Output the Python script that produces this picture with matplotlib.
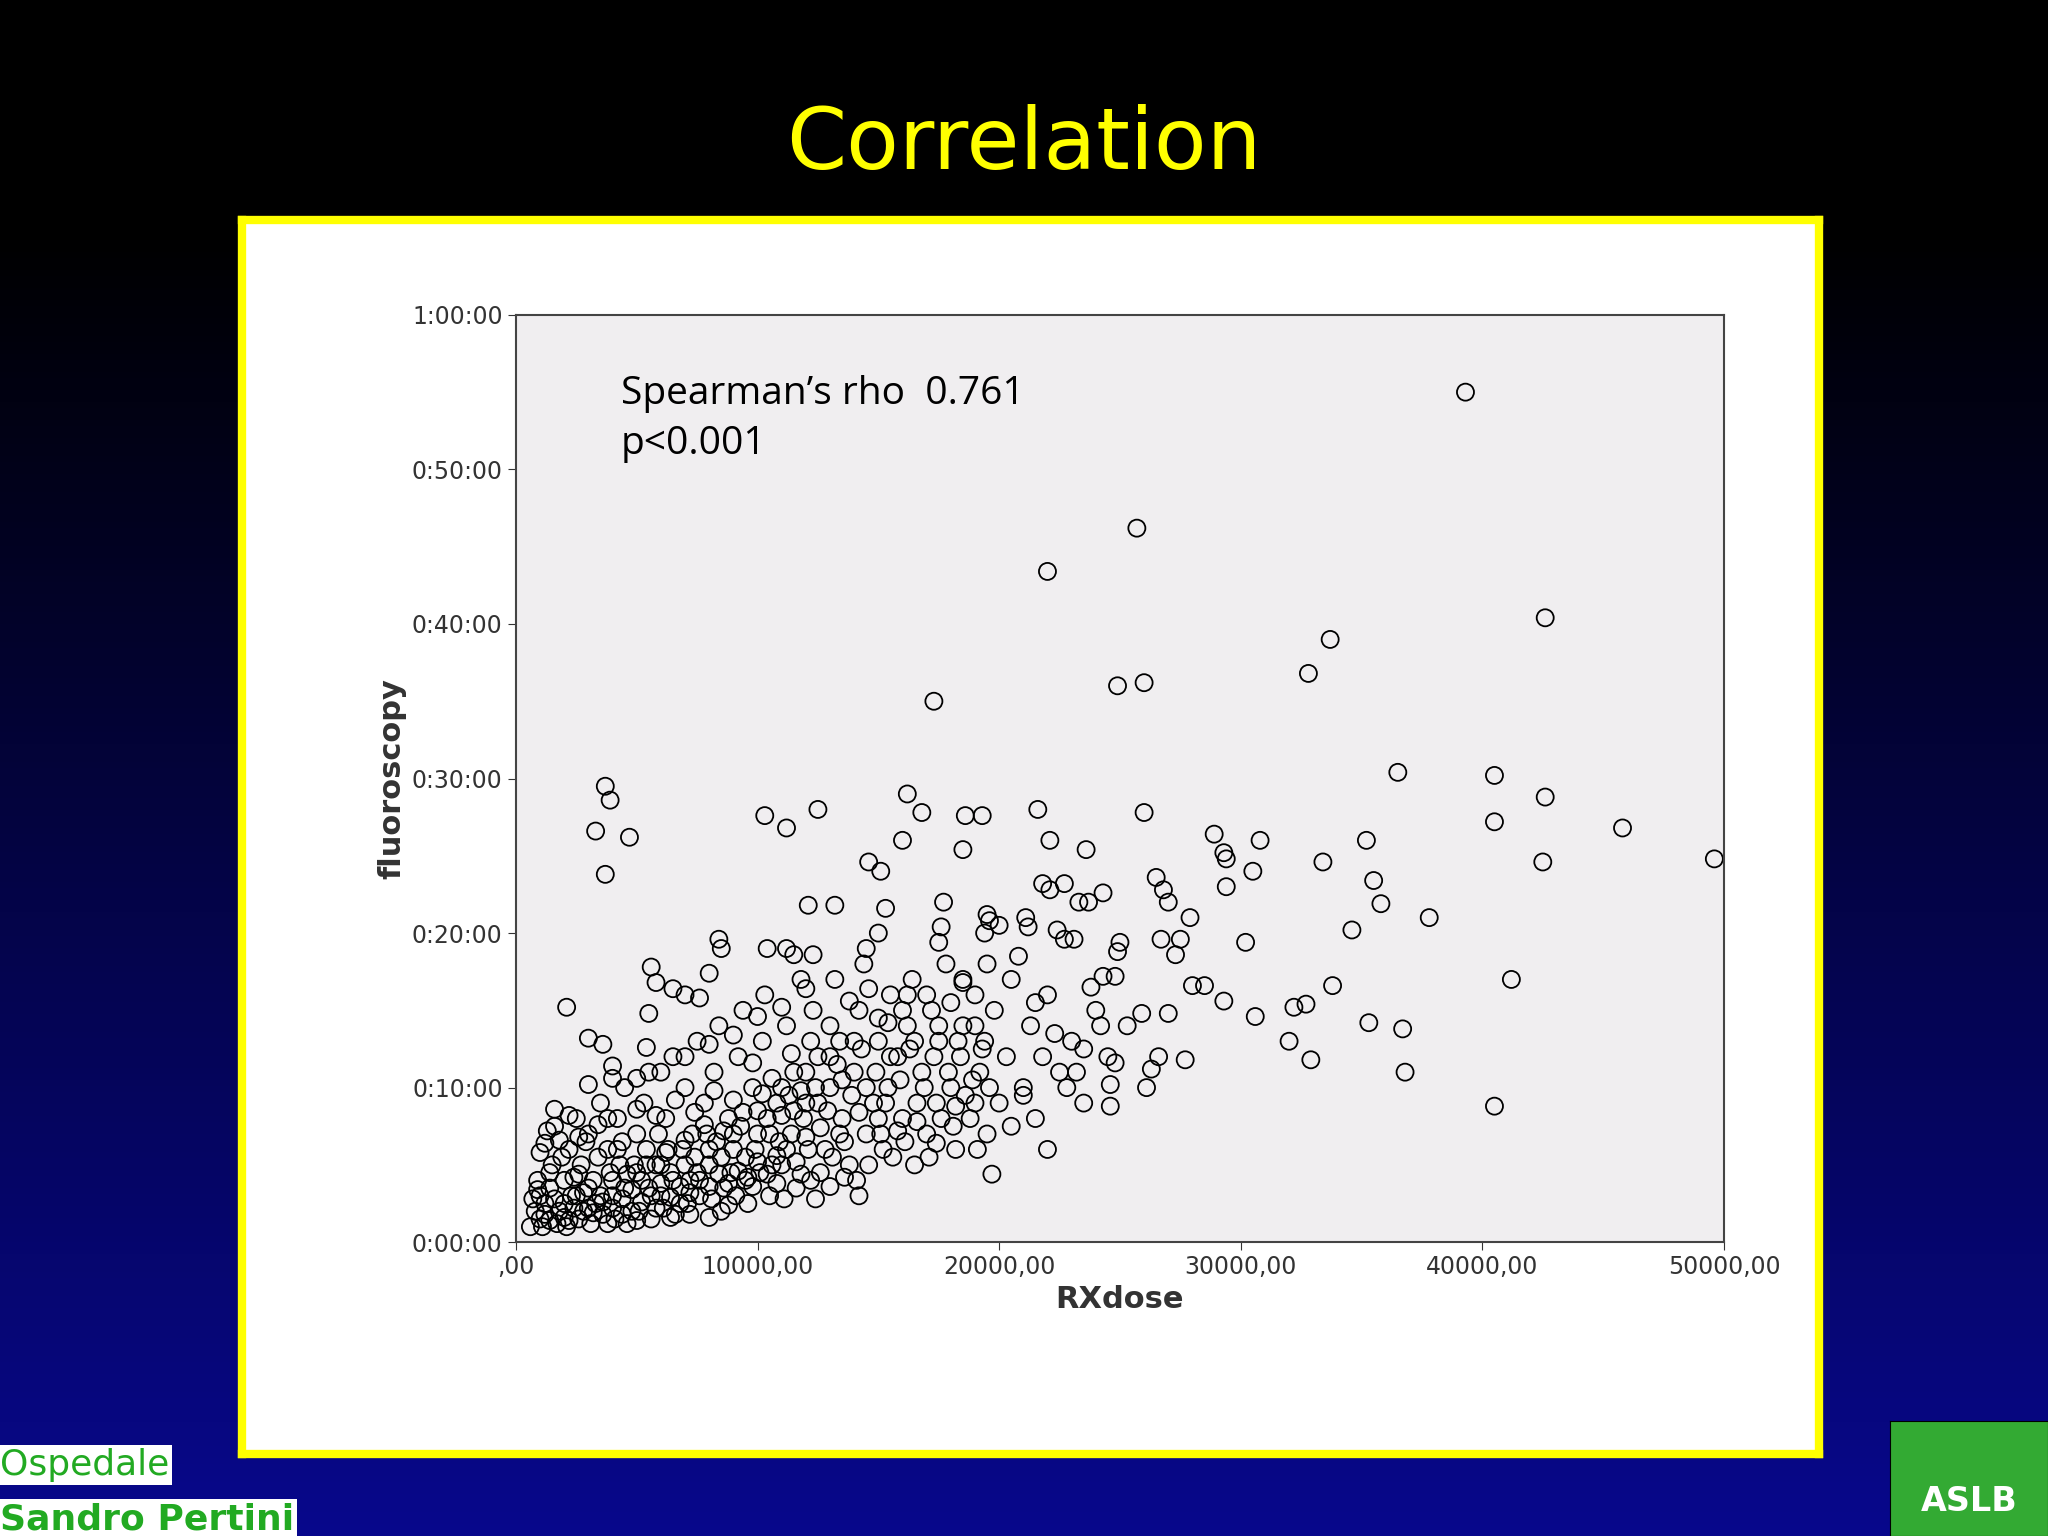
import numpy as np
import matplotlib.pyplot as plt
from matplotlib.ticker import FuncFormatter, MultipleLocator

# DATA  (dose in units, fluoroscopy in minutes)
outlier_pts = [
    (39300, 55.0), (25700, 46.2), (22000, 43.4), (42600, 40.4), (33700, 39.0),
    (32800, 36.8), (24900, 36.0), (26000, 36.2), (17300, 35.0), (36500, 30.4),
    (40500, 30.2), (42600, 28.8), (40500, 27.2), (45800, 26.8), (49600, 24.8),
    (42500, 24.6), (3700, 29.5), (3900, 28.6), (3300, 26.6), (4700, 26.2),
    (3700, 23.8), (10300, 27.6), (11200, 26.8), (12500, 28.0), (16200, 29.0),
    (16800, 27.8), (16000, 26.0), (18600, 27.6), (19300, 27.6), (18500, 25.4),
    (21600, 28.0), (22100, 26.0), (26000, 27.8), (23600, 25.4), (28900, 26.4),
    (29300, 25.2), (29400, 24.8), (30800, 26.0), (30500, 24.0), (33400, 24.6),
    (35200, 26.0), (35500, 23.4), (35800, 21.9), (34600, 20.2), (37800, 21.0),
    (41200, 17.0), (33800, 16.6), (32200, 15.2), (32700, 15.4), (32000, 13.0),
    (32900, 11.8), (35300, 14.2), (36700, 13.8), (36800, 11.0), (40500, 8.8),
    (29300, 15.6), (30600, 14.6), (30200, 19.4), (29400, 23.0), (27900, 21.0),
    (27500, 19.6), (26500, 23.6), (26800, 22.8), (27000, 22.0), (26700, 19.6),
    (27300, 18.6), (28000, 16.6), (28500, 16.6), (27700, 11.8), (26300, 11.2),
    (26600, 12.0), (27000, 14.8), (25900, 14.8), (26100, 10.0), (24600, 8.8),
    (24600, 10.2), (24800, 11.6), (25300, 14.0), (25000, 19.4), (24900, 18.8),
    (24300, 17.2), (24800, 17.2), (23700, 22.0), (24300, 22.6), (22700, 23.2),
    (21800, 23.2), (22100, 22.8), (21100, 21.0), (21200, 20.4), (19500, 21.2),
    (19600, 20.8), (19400, 20.0), (22000, 6.0), (19700, 4.4), (14200, 3.0),
    (23300, 22.0), (23100, 19.6), (22400, 20.2), (22700, 19.6), (13200, 21.8),
    (12100, 21.8), (14600, 24.6), (15100, 24.0), (10400, 19.0), (11200, 19.0),
    (11500, 18.6), (12300, 18.6), (8400, 19.6), (8500, 19.0), (8000, 17.4),
    (7600, 15.8), (5600, 17.8), (5800, 16.8), (6500, 16.4), (7000, 16.0),
    (2100, 15.2), (3000, 13.2), (3600, 12.8), (4000, 10.6), (5500, 14.8),
    (5400, 12.6), (17700, 22.0), (17600, 20.4), (17500, 19.4), (18500, 16.8),
    (15300, 21.6), (14500, 19.0), (15000, 20.0),
]

# dense cluster, dose in thousands
cluster_pts = [
    (0.8, 2), (1, 1.5), (1, 3), (1.2, 2.5), (0.9, 4), (1.3, 7.2), (1.6, 7.5), (1.5, 5),
    (1.4, 3.5), (1.8, 2), (2, 4), (2.2, 6), (2.5, 8), (2.3, 3), (2.7, 5), (2.8, 2), (3, 7),
    (3.2, 4), (3.5, 9), (3.3, 2.5), (3.8, 6), (4, 3), (4.2, 8), (4.5, 10), (4.3, 5), (4.8, 2),
    (5, 7), (5.2, 4), (5.5, 11), (5.3, 9), (5.8, 5), (6, 3), (6.2, 8), (6.5, 12), (6.3, 6),
    (6.8, 2.5), (7, 10), (7.2, 4), (7.5, 13), (7.3, 7), (7.8, 9), (8, 5), (8.2, 11), (8.5, 2),
    (8.4, 14), (8.8, 8), (9, 6), (9.2, 12), (9.5, 4), (9.4, 15), (9.8, 10), (10, 7),
    (10.2, 13), (10.5, 3), (10.3, 16), (10.8, 9), (11, 5), (11.2, 14), (11.5, 11), (11.4, 7),
    (11.8, 17), (12, 9), (12.2, 4), (12.5, 12), (12.3, 15), (12.8, 6), (13, 10), (13.2, 17),
    (13.5, 8), (13.4, 13), (13.8, 5), (14, 11), (14.2, 15), (14.5, 7), (14.4, 18), (14.8, 9),
    (15, 13), (15.2, 6), (15.5, 16), (15.4, 10), (15.8, 12), (16, 8), (16.2, 14), (16.5, 5),
    (16.4, 17), (16.8, 11), (17, 7), (17.2, 15), (17.5, 13), (17.4, 9), (17.8, 18), (18, 10),
    (18.2, 6), (18.5, 14), (18.4, 12), (18.8, 8), (19, 16), (19.2, 11), (19.5, 7), (19.4, 13),
    (19.8, 15), (20, 9), (20.3, 12), (20.5, 17), (21, 10), (21.3, 14), (21.5, 8), (22, 16),
    (22.5, 11), (23, 13), (23.5, 9), (24, 15), (24.5, 12),
    (0.6, 1), (1.1, 1), (1.7, 1.2), (2.1, 1), (2.6, 1.5), (3.1, 1.2), (3.6, 1.8), (4.1, 1.5),
    (4.6, 1.2), (5.1, 2), (5.6, 1.5), (6.1, 2.2), (6.6, 1.8), (7.1, 2.5), (7.6, 3), (8.1, 2.8),
    (8.6, 3.5), (9.1, 3), (9.6, 2.5), (10.1, 4.5), (10.6, 5), (11.1, 2.8), (11.6, 3.5),
    (12.1, 6), (12.6, 4.5), (13.1, 5.5), (13.6, 6.5), (14.1, 4), (14.6, 5), (15.1, 7),
    (15.6, 5.5), (16.1, 6.5), (16.6, 9), (17.1, 5.5), (17.6, 8), (18.1, 7.5), (18.6, 9.5),
    (19.1, 6), (19.6, 10),
    (1.4, 4.5), (1.9, 5.5), (2.4, 4.2), (2.9, 6.5), (3.4, 5.5), (3.9, 4.5), (4.4, 6.5),
    (4.9, 5), (5.4, 6), (5.9, 7), (6.4, 4.5), (6.9, 6), (7.4, 5.5), (7.9, 7), (8.3, 6.5),
    (8.9, 4.5), (9.3, 7.5), (9.9, 6), (10.4, 8), (10.9, 6.5), (11.3, 9.5), (11.9, 8),
    (12.4, 10), (12.9, 8.5), (13.3, 11.5), (13.9, 9.5), (14.3, 12.5), (14.9, 11), (15.3, 9),
    (15.9, 10.5), (16.3, 12.5), (16.9, 10), (17.3, 12), (17.9, 11), (18.3, 13), (18.9, 10.5),
    (19.3, 12.5), (2.0, 2.5), (2.5, 3), (3.0, 3.5), (3.5, 3), (4.0, 4), (4.5, 3.5), (5.0, 4.5),
    (5.5, 3.5), (6.0, 5), (6.5, 4), (7.0, 5), (7.5, 4.5), (8.0, 6), (8.5, 5.5), (9.0, 7),
    (9.5, 5.5), (10.0, 8.5), (10.5, 7), (11.0, 10), (11.5, 8.5), (12.0, 11), (12.5, 9),
    (13.0, 12), (13.5, 10.5), (14.0, 13), (14.5, 10), (15.0, 14.5), (15.5, 12), (16.0, 15),
    (16.5, 13), (17.0, 16), (17.5, 14), (18.0, 15.5), (18.5, 17), (19.0, 14), (19.5, 18),
    (20, 20.5), (20.8, 18.5), (21.5, 15.5), (22.3, 13.5), (23.2, 11), (23.8, 16.5),
    (24.2, 14), (20.5, 7.5), (21, 9.5), (21.8, 12), (22.8, 10), (23.5, 12.5),
    # extra points in the packed low-dose corner
    (1.2, 1.8), (1.6, 2.8), (2.0, 1.6), (2.4, 2.2), (2.8, 3.2), (3.2, 1.9), (3.6, 2.6),
    (4.0, 2.2), (4.4, 2.8), (4.8, 3.4), (5.2, 2.6), (5.6, 3.0), (6.0, 3.8), (6.4, 2.9),
    (6.8, 3.6), (7.2, 3.2), (7.6, 4.0), (8.0, 3.6), (8.4, 4.4), (8.8, 3.8), (9.2, 4.6),
    (9.6, 4.2), (10.0, 5.2), (10.4, 4.4), (10.8, 5.6), (11.2, 6.0), (11.6, 5.2), (12.0, 6.8),
    (1.0, 5.8), (1.8, 6.6), (2.6, 6.8), (3.4, 7.6), (4.2, 6.0), (5.0, 8.6), (5.8, 8.2),
    (6.6, 9.2), (7.4, 8.4), (8.2, 9.8), (9.0, 9.2), (9.8, 11.6), (10.6, 10.6), (11.4, 12.2),
    (12.2, 13.0), (13.0, 14.0), (13.8, 15.6), (14.6, 16.4), (15.4, 14.2), (16.2, 16.0),
    (3.0, 10.2), (4.0, 11.4), (5.0, 10.6), (6.0, 11.0), (7.0, 12.0), (8.0, 12.8),
    (9.0, 13.4), (10.0, 14.6), (11.0, 15.2), (12.0, 16.4), (2.2, 8.2), (1.6, 8.6),
    (4.6, 4.4), (5.4, 5.0), (6.2, 5.8), (7.0, 6.6), (7.8, 7.6), (8.6, 7.2), (9.4, 8.4),
    (10.2, 9.6), (11.0, 8.2), (11.8, 9.8), (12.6, 7.4), (13.4, 7.0), (14.2, 8.4), (15.0, 8.0),
    (15.8, 7.2), (16.6, 7.8), (17.4, 6.4), (18.2, 8.8), (19.0, 9.0), (3.8, 8.0), (2.6, 4.4),
    (1.2, 6.4), (0.7, 2.8), (0.9, 3.4), (1.4, 1.4), (2.2, 1.4), (3.0, 2.2), (3.8, 1.2),
    (4.4, 1.8), (5.0, 1.4), (5.8, 2.2), (6.4, 1.6), (7.2, 1.8), (8.0, 1.6), (8.8, 2.4),
    (9.8, 3.6), (10.8, 3.8), (11.8, 4.4), (12.4, 2.8), (13.0, 3.6), (13.6, 4.2),
]

dose = [p[0] for p in outlier_pts] + [p[0] * 1000 for p in cluster_pts]
fluoro = [p[1] for p in outlier_pts] + [p[1] for p in cluster_pts]

fig = plt.figure(figsize=(20.48, 15.36), dpi=100)

# slide background: black to dark blue
bg = fig.add_axes([0, 0, 1, 1], zorder=-10)
grad = np.linspace(0, 1, 256).reshape(-1, 1)
grad = np.clip((grad - 0.15) / 0.85, 0, 1)
rgb = np.zeros((256, 1, 3))
rgb[..., 0] = 0.03 * grad
rgb[..., 1] = 0.03 * grad
rgb[..., 2] = 0.55 * grad
bg.imshow(rgb, aspect='auto', extent=[0, 1, 0, 1], origin='upper')
bg.axis('off')

fig.text(0.5, 0.905, "Correlation", color='#ffff00', fontsize=62,
         ha='center', va='center', family='DejaVu Sans')

# white panel with yellow border
panel = fig.add_axes([0.118, 0.0536, 0.770, 0.803], zorder=-5)
panel.set_xticks([])
panel.set_yticks([])
panel.set_facecolor('white')
for s in panel.spines.values():
    s.set_color('#ffff00')
    s.set_linewidth(6)

ax = fig.add_axes([0.2519, 0.1913, 0.5899, 0.6037])
ax.set_facecolor('#f0eef0')
ax.scatter(dose, fluoro, s=150, facecolors='none', edgecolors='black', linewidths=1.3)
ax.set_xlim(0, 50000)
ax.set_ylim(0, 60)
ax.xaxis.set_major_locator(MultipleLocator(10000))
ax.yaxis.set_major_locator(MultipleLocator(10))
ax.xaxis.set_major_formatter(FuncFormatter(lambda v, p: ",00" if v == 0 else f"{int(v)},00"))
ax.yaxis.set_major_formatter(FuncFormatter(lambda v, p: f"{int(v)//60}:{int(v)%60:02d}:00"))
ax.tick_params(labelsize=17, colors='#333333', length=6)
for s in ax.spines.values():
    s.set_color('#444444')
    s.set_linewidth(1.5)
ax.set_xlabel("RXdose", fontsize=22, fontweight='bold', color='#333333')
ax.set_ylabel("fluoroscopy", fontsize=22, fontweight='bold', color='#333333')
ax.text(0.087, 0.935, "Spearman\u2019s rho  0.761\np<0.001", transform=ax.transAxes,
        fontsize=28, va='top', linespacing=1.4, family='Open Sans')

# footer logos
fig.text(0.0, 0.035, "Ospedale", color='#22aa22', fontsize=26, va='bottom',
         bbox=dict(facecolor='white', edgecolor='none', pad=2))
fig.text(0.0, 0.0, "Sandro Pertini", color='#22aa22', fontsize=26, fontweight='bold',
         va='bottom', bbox=dict(facecolor='white', edgecolor='none', pad=2))
logo = fig.add_axes([0.923, 0.0, 0.077, 0.075])
logo.set_facecolor('#33aa33')
logo.set_xticks([])
logo.set_yticks([])
logo.text(0.5, 0.3, "ASLB", color='white', fontsize=24, fontweight='bold',
          ha='center', va='center', transform=logo.transAxes)

fig.savefig("out.png", dpi=100)
